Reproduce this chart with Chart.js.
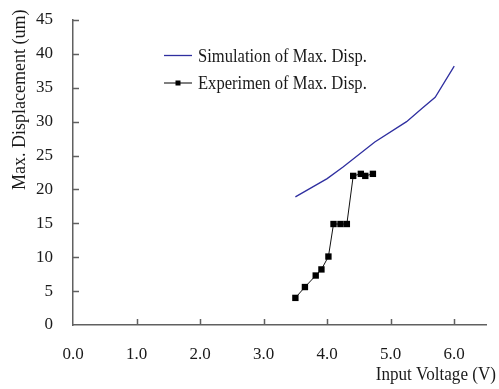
<!DOCTYPE html>
<html>
<head>
<meta charset="utf-8">
<script src="https://cdn.jsdelivr.net/npm/chart.js@4/dist/chart.umd.min.js"></script>
<style>
html,body{margin:0;padding:0;background:#fff;}
#wrap{position:relative;width:499px;height:389px;}
</style>
</head>
<body>
<div id="wrap"><canvas id="c" width="499" height="389"></canvas></div>
<script>
// ---- data ----
const simVoltage = [3.5, 4.0, 4.25, 4.75, 5.25, 5.5, 5.7, 6.0];
const simDisp    = [18.9, 21.6, 23.3, 27.0, 30.0, 32.0, 33.6, 38.2];
const expVoltage = [3.5, 3.65, 3.82, 3.91, 4.02, 4.1, 4.21, 4.31, 4.41, 4.53, 4.6, 4.72];
const expDisp    = [4.0, 5.6, 7.3, 8.2, 10.1, 14.9, 14.9, 14.9, 22.0, 22.3, 22.0, 22.3];
const xTickLabels = ['0.0', '1.0', '2.0', '3.0', '4.0', '5.0', '6.0'];
const yTickLabels = ['0', '5', '10', '15', '20', '25', '30', '35', '40', '45'];
const seriesNames = ['Simulation of Max. Disp.', 'Experimen of Max. Disp.'];
const xTitle = 'Input Voltage (V)';
const yTitle = 'Max. Displacement (um)';

const FONT = '"Liberation Serif", "Times New Roman", serif';
const BLUE = '#2f2fa0';
const AXIS = '#606060';
const TEXT = '#1a1a1a';

const pts = (xs, ys) => xs.map((x, i) => ({x: x, y: ys[i]}));

function narrowText(ctx, text, x, y, align, sx) {
  ctx.save();
  ctx.translate(x, y);
  ctx.scale(sx, 1);
  ctx.textAlign = align;
  ctx.fillText(text, 0, 0);
  ctx.restore();
}

const decor = {
  id: 'decor',
  afterDraw(chart) {
    const ctx = chart.ctx;
    const xs = chart.scales.x, ys = chart.scales.y;
    const area = chart.chartArea;
    ctx.save();
    // inward tick marks
    ctx.strokeStyle = AXIS;
    ctx.lineWidth = 1.5;
    ctx.beginPath();
    for (let i = 1; i < xTickLabels.length; i++) {
      const px = Math.round(xs.getPixelForValue(i)) + 0.5;
      ctx.moveTo(px, area.bottom);
      ctx.lineTo(px, area.bottom - 6);
    }
    for (let i = 1; i < yTickLabels.length; i++) {
      const py = Math.round(ys.getPixelForValue(i * 5)) + 0.5;
      ctx.moveTo(area.left, py);
      ctx.lineTo(area.left + 6, py);
    }
    ctx.stroke();
    // legend
    ctx.font = '18px ' + FONT;
    ctx.fillStyle = TEXT;
    ctx.textBaseline = 'alphabetic';
    const lx0 = 164, lx1 = 192, ly1 = 55.5, ly2 = 83;
    ctx.strokeStyle = BLUE; ctx.lineWidth = 1.3;
    ctx.beginPath(); ctx.moveTo(lx0, ly1); ctx.lineTo(lx1, ly1); ctx.stroke();
    narrowText(ctx, seriesNames[0], 198, 61.5, 'left', 0.92);
    ctx.strokeStyle = '#000'; ctx.lineWidth = 1;
    ctx.beginPath(); ctx.moveTo(lx0, ly2); ctx.lineTo(lx1, ly2); ctx.stroke();
    ctx.fillStyle = '#000';
    ctx.fillRect(175.5, ly2 - 2.5, 5, 5);
    ctx.fillStyle = TEXT;
    narrowText(ctx, seriesNames[1], 198, 88.5, 'left', 0.92);
    // axis titles
    narrowText(ctx, xTitle, 496, 379.5, 'right', 0.95);
    ctx.translate(25, 190);
    ctx.rotate(-Math.PI / 2);
    ctx.textAlign = 'left';
    ctx.fillText(yTitle, 0, 0);
    ctx.restore();
  }
};

new Chart(document.getElementById('c'), {
  type: 'scatter',
  data: {
    datasets: [
      {
        label: seriesNames[0],
        data: pts(simVoltage, simDisp),
        showLine: true,
        borderColor: BLUE,
        borderWidth: 1.3,
        pointRadius: 0,
        pointHoverRadius: 0,
        fill: false,
        tension: 0
      },
      {
        label: seriesNames[1],
        data: pts(expVoltage, expDisp),
        showLine: true,
        borderColor: '#111',
        borderWidth: 1,
        pointStyle: 'rect',
        pointRadius: 4.5,
        pointBackgroundColor: '#000',
        pointBorderColor: '#000',
        pointBorderWidth: 0,
        fill: false,
        tension: 0
      }
    ]
  },
  options: {
    responsive: false,
    animation: false,
    layout: {padding: {left: 0, right: 13, top: 20, bottom: 0}},
    plugins: {legend: {display: false}, tooltip: {enabled: false}},
    scales: {
      x: {
        type: 'linear',
        min: 0, max: 6.5,
        border: {display: true, color: AXIS, width: 1.5},
        grid: {display: false, drawTicks: false},
        ticks: {
          stepSize: 1,
          includeBounds: false,
          padding: 19,
          color: TEXT,
          font: {family: FONT, size: 17},
          maxRotation: 0,
          callback: (v) => (Number.isInteger(v) && v >= 0 && v < xTickLabels.length) ? xTickLabels[v] : ''
        },
        afterFit: (s) => { s.height = 64; }
      },
      y: {
        type: 'linear',
        min: 0, max: 45,
        border: {display: true, color: AXIS, width: 1.5},
        grid: {display: false, drawTicks: false},
        ticks: {
          stepSize: 5,
          padding: 20,
          color: TEXT,
          font: {family: FONT, size: 17},
          callback: (v) => yTickLabels[Math.round(v / 5)]
        },
        afterFit: (s) => { s.width = 73; s.paddingTop = 0; s.paddingBottom = 0; }
      }
    }
  },
  plugins: [decor]
});
</script>
</body>
</html>
